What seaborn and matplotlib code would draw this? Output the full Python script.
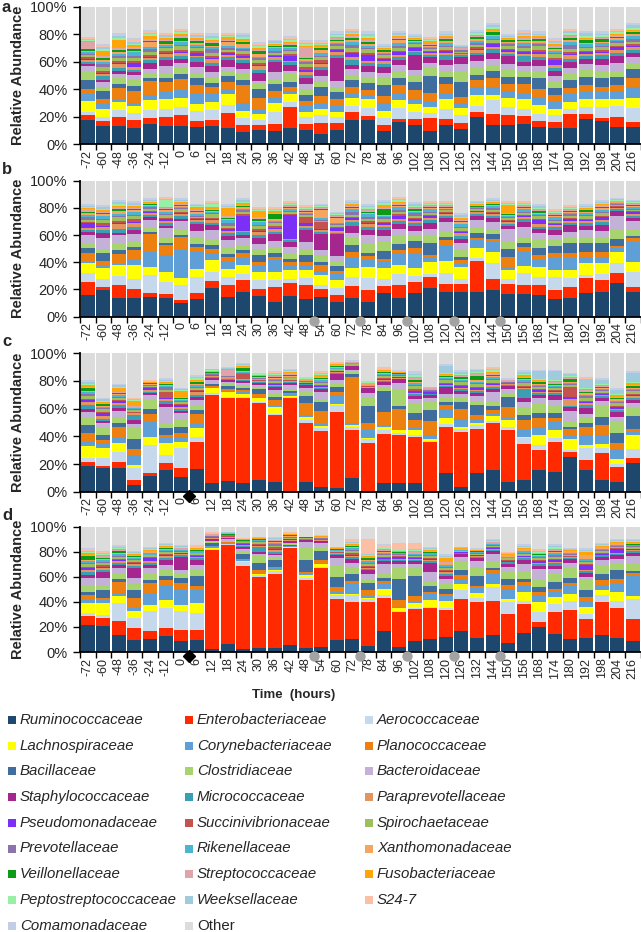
import numpy as np
import pandas as pd
import matplotlib
matplotlib.use("Agg")
import matplotlib.pyplot as plt
import seaborn as sns
from matplotlib.patches import Rectangle

# sampling times (hours) and panels
times = ['-72', '-60', '-48', '-36', '-24', '-12', '0', '6', '12', '18', '24', '30', '36', '42', '48', '54',
         '60', '72', '78', '84', '96', '102', '108', '120', '126', '132', '144', '150', '156', '168', '174',
         '180', '192', '198', '204', '216']
panels = ['a', 'b', 'c', 'd']

families = ['Ruminococcaceae', 'Enterobacteriaceae', 'Aerococcaceae', 'Lachnospiraceae', 'Corynebacteriaceae',
            'Planococcaceae', 'Bacillaceae', 'Clostridiaceae', 'Bacteroidaceae', 'Staphylococcaceae',
            'Micrococcaceae', 'Paraprevotellaceae', 'Pseudomonadaceae', 'Succinivibrionaceae', 'Spirochaetaceae',
            'Prevotellaceae', 'Rikenellaceae', 'Xanthomonadaceae', 'Veillonellaceae', 'Streptococcaceae',
            'Fusobacteriaceae', 'Peptostreptococcaceae', 'Weeksellaceae', 'S24-7', 'Comamonadaceae', 'Other']
colors = ['#1e476d', '#ff2a00', '#c6d9ec', '#ffff00', '#5e9fd8',
          '#ec8011', '#3f6e9e', '#a8d46f', '#c4b1d8', '#a5268e',
          '#3b9fb4', '#e2955e', '#7b2ff7', '#c4524e', '#9ebf5e',
          '#8b74ad', '#4bb4d3', '#f6a55e', '#0c9b16', '#dfa4a8',
          '#ffa50a', '#98f0a6', '#9fcbdc', '#fbbfa5', '#c3cde6', '#dcdcdc']

# relative abundance (%), one row per panel a, b, c, d
rumino = [
    [17.7, 13.6, 13.6, 12.1, 14.8, 13.6, 13.3, 12.8, 13.6, 11.6, 8.7, 10.4, 9.9, 12.1, 10.4, 7.3,
     10.4, 17.7, 17.7, 9.7, 16.5, 13.8, 9.9, 14, 10.9, 19.6, 13.8, 13.8, 14.8, 12.3, 12.1, 11.6, 18.2, 16.7, 12.6, 12.6],
    [15.9, 19.6, 14, 13.5, 14.7, 13.5, 9.8, 12.7, 20.8, 14.7, 17.8, 15.2, 11, 15.4, 13, 14.7,
     11, 13.5, 11, 17.6, 14, 17.6, 20.8, 18.4, 18.4, 18.4, 19.6, 16.4, 16.4, 15.9, 12.7, 13.5, 17.6, 18.4, 24.5, 18.4],
    [18.6, 16.9, 16.9, 4.8, 11.3, 15.7, 10.8, 16.1, 6, 7.7, 6.5, 8.4, 7.2, 0.5, 7.2, 3.6,
     2.4, 9.6, 0.7, 6, 6.5, 6, 0.7, 13.3, 3.6, 13.3, 15.7, 6.7, 8.4, 15.7, 14.5, 25.3, 15.7, 8.4, 7.2, 21],
    [21.8, 21, 13.3, 9.3, 10.6, 12.5, 8.5, 9.8, 2, 6.6, 2, 3.2, 3.2, 5.8, 3.2, 4,
     9.2, 10.5, 4.6, 16.8, 3.8, 8.6, 10, 12.2, 16.8, 11.4, 13.5, 7.3, 15.4, 20.3, 14, 10, 11.4, 13.5, 11.4, 8.6],
]
entero = [
    [3.6, 3.4, 6.5, 5.6, 4.1, 6.4, 8, 4.2, 4.1, 10.9, 5.3, 3.6, 4.9, 15.3, 4.1, 8,
     5.3, 6, 2.9, 4.3, 1.9, 4.4, 9.5, 4.6, 4.4, 4.1, 8.2, 7.2, 6, 4.9, 3.9, 10.2, 3.8, 2.2, 7.4, 3.9],
    [9.8, 2.4, 9.3, 6.5, 2.5, 3.2, 2.5, 4.9, 5.4, 8.6, 9.2, 4.8, 11, 9.6, 10.3, 5.3,
     5, 9, 8.6, 4.9, 9.3, 7.8, 8.6, 5.6, 5.6, 22.6, 7.8, 7.6, 6.9, 7.4, 6.9, 8.1, 11, 8.6, 7.4, 3.6],
    [3.1, 1.9, 4.8, 3.6, 2, 4.8, 6, 20, 64, 59.8, 61, 55.6, 48.2, 67, 42.2, 40.2,
     55.4, 35, 34.7, 36, 34.5, 33.8, 35.4, 33.2, 39.8, 31.8, 33.7, 37.9, 26.1, 14.5, 21.7, 3.6, 7.2, 19.3, 10.8, 3],
    [7.1, 6, 11.1, 9.8, 5.8, 6.6, 9.3, 8, 79.4, 78.8, 66.7, 56.5, 59.1, 77, 54.4, 62.8,
     33.2, 29.2, 35.1, 26.4, 27.8, 25.7, 25.1, 21.3, 25.6, 28.3, 27.5, 23, 23, 3.8, 17.6, 23.5, 14.8, 26.2, 23.7, 17.6],
]
aero = [
    [2, 3, 5, 5, 6, 6, 6, 7, 7, 6, 5, 4, 9, 3, 5, 6,
     4, 4, 6, 5, 8, 5, 3, 7, 6, 4, 10, 6, 5, 5, 5, 4, 5, 8, 8, 10],
    [6.2, 6, 6.5, 7.5, 13.4, 9, 11, 11.8, 7, 6, 4.4, 7, 5, 3, 5, 3.3,
     5, 7, 8.6, 5, 8, 4.4, 2, 8, 4, 2, 12, 3.4, 8.6, 6, 9.8, 6.6, 2, 4.4, 7.3, 11],
    [2.4, 5.3, 7.2, 8.4, 20.4, 6, 14.5, 3.6, 1, 1, 1, 1, 1, 1, 2.4, 2,
     4.8, 2.4, 3, 2.4, 1.2, 1, 0.5, 2.4, 2, 3, 1.5, 2, 4, 3.6, 2.4, 1, 8.4, 3.6, 2, 7.2],
    [2, 2.7, 14.6, 8, 16, 16, 14.6, 13.3, 1, 0.5, 3.4, 2, 2, 0.5, 1.5, 1,
     2.7, 5.4, 2.7, 2, 1, 1, 1, 2, 6.7, 3.5, 10.8, 9.5, 2.7, 7.6, 6.7, 7.6, 4, 5.4, 5.9, 16.2],
]
lachno = [
    [8.5, 6, 6, 5, 7, 7, 6, 5, 6, 8, 5, 4, 6, 6, 4, 4,
     4, 6, 6, 5, 6, 6, 5, 7, 5, 8, 4, 7, 7, 6, 5, 5, 6, 6, 5, 7],
    [7.3, 7.5, 8, 10.5, 6, 7.4, 5, 6, 8.6, 6, 6.6, 6, 6, 6, 6, 7.4,
     6, 6, 8.6, 8.6, 7, 6, 9, 8.6, 8.6, 7.4, 8, 7, 5.4, 7, 5, 6, 8.6, 7.8, 8.6, 7.4],
    [9, 7.2, 6, 2.4, 6, 8.4, 4.8, 6, 3.6, 3.6, 2.4, 2.4, 4.8, 1, 2.4, 1.7,
     1, 1.5, 0.5, 2.4, 2.4, 3.6, 1.7, 4, 1.7, 1.5, 3.6, 5.3, 1, 7.2, 6, 8.4, 2.4, 3, 3.4, 9.6],
    [8, 9.3, 5.3, 5.3, 5.3, 6.6, 5.3, 8, 0.5, 0.5, 0.5, 0.5, 1.5, 0.5, 2.6, 2.6,
     1.5, 1.5, 0.5, 5.4, 2.7, 4, 5.1, 4.9, 5.4, 3.8, 2.7, 2.7, 6.7, 8, 5.4, 4.9, 5.9, 4, 6.7, 2],
]
coryne = [
    [4.8, 3, 2, 2, 4, 5, 6, 8, 6, 4, 6, 4, 4, 2, 4, 4,
     4, 3, 3, 6, 4, 4, 4, 5, 4, 6, 6, 5, 4, 6, 5, 6, 5, 5, 6, 8],
    [1, 2, 1, 3.5, 11, 12.3, 20.8, 12, 5, 6, 5, 5, 8.6, 3.7, 3.7, 3,
     5, 8.6, 5, 5, 8.6, 11, 3.7, 12, 2.5, 6, 7.4, 2, 10.5, 5.4, 8.6, 8.6, 5, 5, 2.5, 14.7],
    [3, 3.6, 3.6, 7.2, 10.8, 4, 3.6, 3, 1, 1, 1, 1, 1, 1, 1.5, 1.5,
     6, 1, 6, 1.5, 1, 1.5, 3, 7.2, 5.5, 2, 2, 2, 6, 6, 6, 2, 7.2, 6.5, 7.2, 2],
    [2.6, 2.6, 2.6, 2.6, 9.3, 12, 12, 10.6, 1.5, 0.5, 1, 1, 1, 0.5, 1, 1,
     1.5, 8, 1.5, 4, 1, 1, 4.9, 4, 4, 4, 8, 8, 5.4, 5.4, 4, 6.7, 4.9, 4, 6.7, 16.2],
]
plano = [
    [3.7, 4, 8, 9, 10, 7, 8, 6, 5, 5, 13, 8, 5, 3, 4, 6,
     5, 5, 4, 5, 7, 6, 6, 6, 4, 5, 6, 5, 7, 6, 5, 4, 5, 4, 4, 7],
    [7, 3.5, 7.5, 7.5, 13.5, 7.4, 9.8, 3.7, 3, 2.5, 3.7, 2.5, 2.5, 2.5, 2.5, 4,
     1.5, 3.7, 2.5, 1.5, 2.5, 3.7, 1.5, 3.7, 2.5, 1.5, 2.5, 7.4, 3.7, 3.7, 3.7, 3.7, 3.7, 3.7, 1.5, 2.5],
    [6, 2.4, 8.4, 4.8, 6, 2.4, 2.4, 7.7, 1, 1, 1.5, 2.4, 4, 1, 8.4, 9.6,
     2.4, 33.7, 4.8, 9.6, 14.5, 6, 9.6, 2.4, 7.2, 3.6, 2.4, 7.2, 6, 6, 2.4, 4.8, 6, 7.2, 4.8, 2.4],
    [4, 1.5, 9.3, 8, 8, 4, 5.3, 2.6, 0.5, 0.5, 1, 2.6, 1, 0.5, 1.5, 2,
     4, 2, 5.4, 2, 5.4, 4, 1.5, 1.5, 2.6, 1.5, 2.6, 2.6, 2.6, 2.6, 2.6, 2.6, 3.2, 4, 4, 2.6],
]
bacil = [
    [6.5, 6, 3, 4, 2, 3, 4, 5, 3, 4, 4, 6, 5, 4, 4, 6,
     5, 5, 5, 8, 5, 6, 12, 5, 11, 4, 5, 5, 5, 8, 5, 6, 6, 6, 6, 6],
    [3, 6, 2.5, 2.5, 1.5, 1.5, 1.5, 2, 3, 2.5, 2.5, 5, 2.5, 2.5, 5, 2.5,
     3.7, 5, 2.5, 6, 4, 5, 8.6, 2, 2.5, 3.7, 3.7, 6, 2.5, 5, 5, 7.4, 6, 6, 5, 1.5],
    [6, 3.6, 2.4, 7.2, 3.6, 5, 5, 2.4, 1, 2.4, 1.5, 3.6, 2.4, 1.5, 4.8, 6,
     3.6, 1.5, 12, 14.5, 2, 4.8, 8.4, 2, 4.8, 7.2, 3, 7.2, 4, 3.6, 3.6, 2, 2.4, 6, 7.2, 9.6],
    [2.6, 6.6, 2, 6.6, 2.6, 2.6, 4, 8, 2, 0.5, 4, 5.3, 5.3, 0.5, 9.3, 7.4,
     8, 5.4, 5.4, 2.6, 16.2, 16.2, 5.4, 4, 4, 8, 2, 5.4, 2.6, 4, 5.4, 4, 4.9, 5.4, 6.7, 1.5],
]
clost = [
    [5.6, 3, 4, 4, 3, 4, 4, 4, 4, 4, 4, 4, 4, 6, 4, 5,
     4, 4, 4, 5, 5, 5, 6, 5, 8, 5, 4, 5, 4, 4, 5, 5, 5, 5, 4, 4],
    [4, 3, 5, 4, 2.5, 3.7, 3.7, 5, 3.7, 5, 3.7, 3.7, 5, 3.7, 3.7, 5,
     3.7, 5, 7, 6, 6, 4, 5, 5, 5, 3.7, 3.7, 6, 3.7, 6, 5, 5, 5, 4.4, 7, 5],
    [6, 5, 4, 8.4, 6, 3, 5, 3.6, 1, 1.5, 1.5, 1.5, 2.4, 1.5, 3.6, 2.4,
     2.4, 2, 7, 2.4, 12, 7.2, 6, 3, 3, 3, 3, 3, 6, 7.2, 6, 3, 3.6, 8.4, 8.4, 6],
    [5.3, 4, 4.5, 5.3, 5.3, 5.3, 4, 5.3, 1, 1, 2, 5.3, 2, 1, 10.6, 2,
     9.5, 5.4, 2, 4, 9.5, 6.7, 4, 4, 6.7, 6.7, 5.4, 5.4, 5.4, 6.7, 6.7, 8, 8, 6.7, 5.4, 5.4],
]
bacter = [
    [4.8, 3, 3, 4, 4, 5, 4, 4, 4, 3, 4, 2, 5, 2, 4, 3,
     4, 4, 4, 4, 4, 4, 4, 4, 5, 5, 5, 4, 4, 5, 4, 4, 4, 5, 6, 5],
    [6, 8, 6, 5, 6, 7, 6, 5, 7, 5, 5, 4, 4, 5, 6, 3.7,
     3.7, 3.7, 6, 5, 5, 3.7, 5, 6, 5, 6, 5, 8.6, 8.6, 5, 3.7, 3.7, 5, 4.4, 10, 6],
    [3.6, 3.6, 5, 2.4, 3.6, 12, 4.8, 3.6, 2.4, 1.5, 2.4, 1.5, 2.4, 2.4, 2.4, 4.8,
     2.4, 1.5, 2.4, 2.4, 4.8, 3, 2.4, 3, 3, 3.6, 7.2, 3, 3, 3.6, 3.6, 8.4, 3, 3, 3, 3],
    [5.3, 5.3, 4, 4, 4, 4, 2.6, 4, 1, 1, 2, 2, 2, 1, 4, 4,
     5.4, 4, 5.4, 6.7, 3, 3, 6.7, 4, 4, 5.4, 5.4, 4, 6.7, 8, 4, 4, 3, 4, 4, 6.7],
]
staph = [
    [1, 2, 2, 2, 4, 4, 3, 4, 4, 5, 4, 6, 7, 4, 5, 5,
     17, 3, 4, 4, 4, 11, 4, 4, 5, 4, 4, 6, 3, 4, 3, 4, 4, 4, 5, 3],
    [2, 3.5, 2, 3, 2, 2, 2, 5, 4, 3, 2, 5, 5, 3.7, 8.6, 12,
     16, 5, 4, 4, 3.7, 3.7, 5, 3, 3, 3, 3, 2, 3, 3, 3.7, 5, 3, 5, 4, 2.5],
    [2.4, 1.5, 2.4, 2.4, 1.5, 2.4, 1.5, 2.4, 1.5, 1.5, 1.5, 1.5, 2.4, 1.5, 2.4, 2.4,
     4.8, 2.4, 3.6, 2.4, 2.4, 2.4, 2.4, 4.8, 2.4, 2.4, 2.4, 2.4, 3, 2.4, 3.6, 2.4, 4.8, 2.4, 3.6, 2.4],
    [2.6, 4.5, 2.6, 8, 2.6, 4, 10.6, 4, 1, 1, 1.5, 1.5, 1.5, 1, 1.5, 1.5,
     2.6, 2.6, 2.6, 2.6, 2.6, 2.6, 7.6, 2.6, 2.6, 2.6, 2.6, 2.6, 2.6, 2.6, 2.6, 2.6, 2.6, 2.6, 2.6, 2.6],
]

# small families: relative share of the thin bands between the main families and "Other"
micro = [
    [2, 2, 2, 1, 2, 2, 2, 3, 2, 2, 2, 2, 2, 2, 2, 2, 2, 3, 2, 3, 2, 2, 2, 3, 4, 2, 3, 2, 4, 2, 2, 2, 2, 3, 2, 2],
    [2, 2, 2, 2, 2, 2, 2, 2, 2, 2, 2, 2, 2, 2, 2, 2, 2, 3, 2, 2, 2, 2, 2, 2, 2, 2, 2, 2, 3, 2, 2, 2, 2, 2, 3, 2],
    [2, 2, 2, 6, 2, 2, 2, 2, 1, 1, 1, 1, 1, 1, 1, 1.5, 1.5, 1, 1, 1, 1, 1, 1, 1.5, 1.5, 1.5, 1.5, 1.5, 7.2, 2, 2, 1.5, 2, 1.5, 1.5, 2],
    [2, 2, 2, 2, 2, 2, 2, 2, 0.5, 0.5, 1, 5.3, 1, 0.5, 1, 1, 2, 2, 1, 2, 1, 1, 2, 2, 2, 2, 2, 2, 2, 2, 2, 2, 2, 2, 2, 2],
]
parapre = [
    [2, 1, 2, 2, 1, 2, 2, 1, 2, 2, 1, 2, 2, 1, 2, 2, 2, 2, 1, 2, 2, 1, 2, 2, 1, 2, 2, 2, 1, 2, 2, 2, 2, 1, 2, 2],
    [2, 2, 3, 3, 2, 2, 2, 2, 2, 2, 1, 2, 2, 1, 2, 2, 2, 2, 2, 2, 2, 2, 2, 2, 2, 2, 2, 2, 2, 2, 2, 2, 2, 2, 2, 2],
    [2, 2, 2, 2, 2, 2, 2, 2, 1, 1, 1, 1, 1, 1, 1, 1, 1, 1, 1, 1, 1, 1, 1, 1, 1, 1, 1, 1, 1, 1, 1, 6, 1, 1, 1, 1],
    [2, 2, 2, 2, 2, 2, 2, 2, 0.5, 0.5, 1, 1, 1, 0.5, 1, 1, 1, 1, 1, 1, 1, 1, 1, 1.5, 1, 1, 1, 1, 1, 1, 1, 1, 1, 1, 1, 1],
]
pseudo = [
    [1, 1, 1, 2, 1, 1, 1, 2, 1, 1, 1, 1, 1, 3, 1, 1, 1, 2, 3, 2, 2, 3, 1, 1, 1, 1, 2, 2, 1, 2, 3, 1, 1, 1, 2, 1],
    [4, 1, 1, 1, 1, 1, 1, 1, 1, 1, 11, 1, 1, 23, 2.5, 1, 3.7, 1, 1, 1, 2, 1, 2, 1, 1, 1, 1, 1, 1, 4, 1, 1, 1, 2, 2, 2],
    [1, 2.5, 1.5, 1, 3.6, 1, 1.5, 1, 0.5, 0.5, 0.5, 1, 1, 1, 1, 1, 1, 1, 1, 1, 1, 1, 4.8, 1, 1, 1, 1, 1, 1, 1.5, 1, 1, 1, 1, 1, 1],
    [1, 1, 1, 1, 4, 1, 1, 1, 0.5, 0.5, 1.5, 1, 1, 0.5, 2, 1, 1, 1, 1, 1, 2.7, 1, 1, 1, 1, 1, 1.5, 1.5, 1, 2, 1, 1, 5.4, 1, 6.7, 1],
]
succin = [
    [2, 1, 1, 1, 1, 1, 1, 1, 1, 1, 1, 1, 1, 1, 2, 2, 1, 1, 1, 1, 1, 1, 1, 1, 1, 1, 1, 1, 1, 1, 1, 1, 1, 1, 1, 1],
    [1, 2, 1, 2, 1, 1, 1, 1, 1, 1, 1, 1, 1, 1, 7, 7, 1, 1, 1, 1, 1, 1, 1, 1, 1, 1, 1, 1, 1, 1, 1, 1, 1, 1, 1, 1],
    [1, 1, 1, 1, 1, 6, 1, 1, 1, 1, 5, 1, 1, 1, 1, 1, 1, 1, 1, 1, 1, 1, 1, 1, 1, 1, 1, 1, 1, 1, 1, 8.4, 1, 1, 1, 1],
    [1, 1, 1, 1, 1, 1, 1, 1, 0.5, 0.5, 1, 1, 1, 0.5, 1, 1, 1, 3, 1, 1, 1, 1, 1, 1, 1, 1, 1, 1, 1, 1, 1, 1, 1, 1, 1, 1],
]
spiro = [
    [2, 2, 2, 2, 2, 2, 3, 2, 2, 2, 2, 2, 2, 2, 2, 2, 2, 2, 2, 2, 2, 3, 2, 2, 2, 2, 2, 2, 2, 3, 2, 2, 2, 2, 2, 2],
    [2, 2, 2, 2, 2, 2, 2, 2, 3, 2, 2, 2, 2, 2, 2, 2, 2, 2, 2, 2, 2, 2, 2, 2, 2, 2, 2, 2, 2, 2, 2, 2, 2, 2, 2, 2],
    [2, 2, 2, 2, 2, 2, 2, 2, 1, 1, 1, 1.5, 1.5, 1.5, 2, 2, 1.5, 1, 2, 2, 2, 2, 2, 2, 2, 2, 2, 2, 2, 2, 2, 2, 2, 2, 2, 2],
    [2, 2, 2, 2, 2, 2, 2, 2, 0.5, 0.5, 1, 2, 1, 0.5, 1.5, 1, 2, 2, 2, 2, 2, 2, 2, 2, 2, 2, 2, 2, 2, 2, 2, 2, 2, 2, 2, 2],
]
prevo = [
    [1, 2, 1, 1, 2, 1, 1, 1, 2, 1, 1, 1, 2, 1, 1, 1, 1, 2, 1, 1, 2, 1, 1, 1, 2, 1, 1, 2, 1, 1, 1, 2, 1, 1, 1, 2],
    [2, 1, 1, 1, 2, 1, 1, 1, 1, 2, 1, 1, 1, 1, 1, 1, 1, 2, 1, 1, 1, 2, 1, 1, 1, 1, 2, 1, 1, 1, 1, 2, 1, 1, 1, 1],
    [1, 1, 1, 1, 1, 3, 1, 1, 1, 1, 1, 1, 1, 1, 1, 1, 1, 1, 1, 1, 1, 1, 1, 1, 1, 1, 1, 1, 1, 1, 1, 1, 1, 1, 1, 1],
    [1, 1, 1, 1, 1, 1, 1, 1, 0.5, 0.5, 1, 1, 1, 0.5, 1, 1, 1, 1, 1, 1, 1, 1, 1, 1, 1, 1, 1, 1, 1, 1, 1, 1, 1, 1, 1, 1],
]
riken = [
    [2, 1, 1, 2, 1, 1, 2, 1, 1, 2, 1, 1, 2, 1, 1, 2, 1, 2, 1, 1, 2, 1, 1, 2, 1, 2, 2, 1, 2, 1, 1, 2, 2, 2, 1, 2],
    [2, 2, 1, 2, 1, 2, 1, 2, 1, 2, 1, 2, 1, 2, 1, 2, 1, 2, 2, 1, 2, 1, 2, 1, 2, 1, 2, 1, 2, 1, 2, 1, 2, 2, 2, 2],
    [1, 1, 1, 1, 1, 1, 1, 1, 1, 1, 1, 1, 1, 1, 1.5, 1.5, 1.5, 1, 1, 1, 1, 1, 1, 1, 1, 1, 1, 1, 1.5, 1, 1, 1, 1, 1, 1, 1],
    [1.5, 1.5, 1.5, 1.5, 1.5, 1.5, 1.5, 1.5, 0.5, 0.5, 1, 1, 1, 0.5, 1, 1, 1.5, 1.5, 1, 1.5, 1, 1, 1.5, 1.5, 1.5, 1.5, 1.5, 1.5, 1.5, 1.5, 1.5, 1.5, 1.5, 1.5, 1.5, 1.5],
]
xantho = [
    [1, 1, 1, 1, 3, 1, 1, 1, 1, 3, 2, 2, 1, 1, 1, 2, 1, 1, 1, 1, 2, 1, 1, 1, 1, 1, 1, 1, 1, 1, 1, 1, 1, 1, 1, 1],
    [2, 1, 2, 1, 1, 1, 1, 2, 1, 1, 1, 1, 1, 1, 1, 8, 7, 1, 1, 1, 1, 1, 1, 1, 1, 1, 1, 1, 1, 1, 1, 1, 1, 1, 1, 1],
    [1, 1, 1, 1, 1, 1, 1, 1, 1, 1, 1, 1, 1, 1, 1, 1.5, 1.5, 1, 1, 1, 1, 1, 1, 1, 1, 1, 1, 1, 1, 1, 1, 1, 1, 1, 1, 1],
    [1, 1, 1, 1, 1, 1, 1, 1, 0.5, 0.5, 0.5, 0.5, 0.5, 0.5, 0.5, 0.5, 1, 1, 1, 1, 1, 1, 1, 1, 2, 1, 1, 1, 1, 1, 1, 1, 3, 1, 1, 1],
]
veill = [
    [1.5, 1.5, 1.5, 1, 1, 1.5, 2, 1.5, 1.5, 1, 1, 1.5, 1, 1, 1, 1.5, 1, 1.5, 1, 1, 1.5, 1, 1, 1.5, 1, 1.5, 2, 1.5, 1, 1.5, 1, 1.5, 2, 1.5, 1, 1.5],
    [1, 1, 1, 1, 1, 1, 1, 1, 1, 1, 1, 1.5, 4, 1.5, 1, 1, 1, 1, 1, 4, 1, 1, 1, 1, 1, 1, 1, 1, 1, 1, 1, 1, 1, 1.5, 1, 1],
    [1.5, 1, 1, 1, 1, 1, 1, 2, 1, 1, 3.6, 1, 1, 1.5, 1, 1, 1, 1, 1, 1, 1, 1, 1, 1, 1, 3.6, 1, 1, 1, 2, 1, 2, 1, 1, 1, 1.5],
    [2.6, 1, 2, 1, 1, 1, 1, 1, 0.5, 0.5, 0.5, 0.5, 0.5, 0.5, 0.5, 0.5, 0.5, 1.5, 2, 1.5, 0.5, 0.5, 0.5, 0.5, 0.5, 0.5, 0.5, 0.5, 0.5, 0.5, 0.5, 0.5, 0.5, 1, 1, 1],
]
strep = [
    [7, 1, 1, 1, 1, 1, 1, 1, 1, 1, 1, 1, 1, 1, 7, 1, 1, 1, 1, 1, 1, 1, 1, 1, 1, 1, 1, 1, 1, 1, 1, 1, 1, 1, 1, 1],
    [2, 1, 1, 1, 1, 1, 1, 1, 1, 1, 1, 1, 1, 1, 1, 1, 1, 1, 1, 1, 1, 1, 1, 1, 1, 1, 1, 1, 1, 1, 1, 1, 1, 1, 1, 1],
    [1, 1, 1, 1, 1, 1, 1, 1, 1, 8.4, 2, 1, 1, 2, 1, 1, 1, 1, 1, 1, 1, 1, 1, 1, 1, 1, 1, 1, 1, 1, 1, 1, 1, 1, 1, 1],
    [1, 1, 1, 1, 1, 1, 1, 1, 0.5, 0.5, 0.5, 0.5, 0.5, 0.5, 0.5, 0.5, 1, 1, 1, 1, 1, 1, 1, 1, 1, 1, 1, 1, 1, 1, 1, 1, 1, 1, 1, 1],
]
fuso = [
    [1, 3, 5, 1, 2, 1, 2, 1, 1, 2, 1, 1, 1, 1, 1, 1, 1, 1, 1, 1, 1, 1, 3, 1, 1, 1, 1, 1, 1, 1, 1, 1, 1, 1, 1, 1],
    [1, 1, 1, 1, 1, 1, 1, 3, 1, 6, 1, 4, 1, 1, 1, 1, 1, 1, 1, 2, 1, 1, 1, 1, 1, 1, 1, 8.6, 1, 1, 1, 1, 1, 1, 1, 1],
    [1, 1, 3.6, 6, 1, 1, 6, 1, 1, 1, 1, 1, 1, 1, 1, 2, 1.5, 1, 1, 1, 1, 1, 1, 1, 1, 1, 1, 1, 1, 1, 1, 1, 1, 1, 1, 1],
    [1, 1, 1, 1, 1, 1, 1, 1, 0.5, 0.5, 0.5, 0.5, 0.5, 0.5, 0.5, 0.5, 1, 1, 1, 1, 1, 1, 1, 4, 1, 1, 1, 1, 1, 1, 1, 1, 3, 1, 1, 1],
]
pepto = [
    [1, 1, 1, 1, 1, 1, 1, 1, 1, 1, 1, 1, 1, 1, 1, 1, 1, 1, 1, 1, 1, 1, 1, 1, 1, 1, 2, 1, 1, 1, 1, 1, 1, 1, 1, 1],
    [1, 1, 1, 1, 1, 5, 1, 1, 3, 1, 1, 1, 1, 1, 1, 1, 1, 1, 1, 1, 1, 1, 1, 1, 1, 1, 1, 1, 1, 1, 1, 1, 1, 1, 1, 1],
    [1, 1, 1, 1, 1, 1, 1, 1, 1, 1, 1, 1, 1, 1, 1, 1, 1, 1, 1, 1, 1, 1, 1, 1, 1, 1, 1, 1, 1, 1, 1, 1, 1, 1, 1, 1],
    [1, 1, 1, 1, 1, 1, 1, 1, 0.5, 0.5, 0.5, 0.5, 0.5, 0.5, 0.5, 0.5, 1, 1, 1, 1, 1, 1, 1, 1, 2, 1, 1, 1, 1, 1, 1, 1, 1, 1, 2, 1.5],
]
weeks = [
    [1, 1, 1, 1, 1, 1, 1, 1, 1, 1, 1, 1, 1, 1, 1, 1, 1, 1, 1, 1, 1, 1, 1, 1, 1, 1, 1, 1, 1, 1, 1, 1, 2, 1, 1, 2],
    [1, 1, 1, 1, 1, 1, 1, 1, 1, 1, 1, 1, 1, 1, 1, 1, 1, 1, 1, 1, 1, 1, 1, 1, 1, 1, 1, 1, 1, 2, 1, 1, 1, 1, 1, 1],
    [1, 1, 1, 1, 1, 1, 1, 1, 1, 1, 1, 1, 1, 1, 1, 1, 1, 1, 1, 1, 1, 1, 1, 6, 1.5, 1, 1, 1, 2, 7.2, 8.4, 1, 6, 4, 3, 7.2],
    [1, 1, 1, 1, 1, 1, 1, 1, 0.5, 0.5, 0.5, 0.5, 0.5, 0.5, 0.5, 0.5, 1, 1, 1, 1, 1, 1, 1, 1, 1, 1, 1, 1, 1, 1, 1, 1, 1, 1, 1, 1],
]
s247 = [
    [1, 1, 1, 1, 0.5, 0.5, 0.5, 0.5, 1, 0.5, 0.5, 0.5, 0.5, 1, 1, 1, 0.5, 0.5, 0.5, 0.5, 0.5, 0.5, 1, 0.5, 0.5, 0.5, 0.5, 0.5, 1, 0.5, 0.5, 0.5, 0.5, 0.5, 0.5, 0.5],
    [1, 0.5, 0.5, 0.5, 0.5, 0.5, 0.5, 0.5, 0.5, 0.5, 0.5, 0.5, 0.5, 0.5, 0.5, 0.5, 0.5, 0.5, 0.5, 0.5, 0.5, 0.5, 0.5, 0.5, 0.5, 0.5, 0.5, 0.5, 0.5, 0.5, 0.5, 0.5, 0.5, 0.5, 0.5, 0.5],
    [0.5, 0.5, 0.5, 0.5, 0.5, 0.5, 0.5, 0.5, 0.5, 0.5, 0.5, 0.5, 0.5, 1, 0.5, 0.5, 0.5, 0.5, 0.5, 0.5, 0.5, 0.5, 0.5, 0.5, 0.5, 0.5, 0.5, 0.5, 0.5, 0.5, 0.5, 0.5, 0.5, 0.5, 0.5, 0.5],
    [1, 1, 0.5, 0.5, 0.5, 0.5, 0.5, 0.5, 0.3, 0.3, 0.3, 0.3, 0.3, 0.3, 0.3, 0.3, 0.5, 2, 12, 3, 8, 6.7, 0.5, 0.5, 0.5, 0.5, 0.5, 0.5, 0.5, 0.5, 0.5, 0.5, 0.5, 0.5, 0.5, 0.5],
]
comam = [
    [1, 1, 1, 1, 1, 1, 1, 1, 1, 1, 1, 1, 1, 1, 1, 1, 1, 1, 1, 1, 1, 1, 1, 1, 1, 1, 1, 1, 1, 1, 1, 1, 1, 1, 1, 1],
    [1, 1, 1, 1, 1, 1, 1, 1, 1, 1, 1, 1, 1, 1, 1, 1, 1, 1, 1, 1, 1, 1, 1, 1, 1, 1, 1, 1, 1, 1, 1, 1, 1, 1, 1, 1],
    [1, 1, 1, 1, 1, 1, 1, 1, 1, 1, 1, 1, 1, 1, 1, 1, 1, 1, 1, 1, 1, 1, 1, 1, 1, 1, 1, 1, 1, 1, 1, 1, 1, 1, 1, 1],
    [1, 1, 1, 1, 1, 1, 1, 1, 0.5, 0.5, 0.5, 0.5, 0.5, 0.5, 0.5, 0.5, 1, 1, 1, 1, 1, 1, 1, 1, 1, 1, 1, 1, 1, 1, 1, 1, 1, 1, 1, 1],
]

# grey "Other" band at the top of each bar (%)
other = [
    [22, 27, 19, 23, 17, 19, 16, 19, 19, 19, 19, 26, 24, 21, 24, 24, 18, 16, 18, 27, 18, 20, 22, 18, 28, 17, 12, 20, 17, 18, 23, 16, 18, 18, 16, 12],
    [17, 18, 14, 15, 13, 12, 13, 17, 15, 17, 13, 19, 19, 15, 18, 17, 23, 14, 17, 14, 12, 16, 15, 15, 24, 15, 13, 15, 15, 17, 21, 18, 17, 14, 13, 14],
    [19, 32, 22, 32, 19, 18, 25, 16, 11, 10, 7, 14, 13, 11, 17, 13, 6, 5, 20, 10, 12, 13, 24, 8, 12, 11, 10, 18, 12, 12, 12, 14, 17, 18, 25, 13],
    [17, 19, 15, 19, 16, 13, 15, 15, 4, 4, 9, 8, 8, 4, 8, 7, 16, 10, 10, 14, 13, 13, 16, 22, 16, 17, 10, 20, 14, 18, 14, 17, 17, 13, 10, 10],
]

# event markers drawn under the time axis
diamond_between = ('0', '6')
circles_between = [('48', '54'), ('72', '78'), ('96', '102'), ('120', '126'), ('144', '150')]
show_diamond = [False, False, True, True]
show_circles = [False, True, False, True]

majors = [rumino, entero, aero, lachno, coryne, plano, bacil, clost, bacter, staph]
minors = [micro, parapre, pseudo, succin, spiro, prevo, riken, xantho, veill, strep, fuso, pepto, weeks, s247, comam]

sns.set_style("ticks")
plt.rcParams['font.family'] = ['Liberation Sans', 'DejaVu Sans']

W, H = 641, 932
fig = plt.figure(figsize=(W / 100, H / 100), dpi=100)
boxes = [(6.7, 144.3), (180.7, 316.7), (353.3, 491.7), (526.7, 652.0)]
letter_y = [7, 170, 342, 516]
x_left, x_right = 80, 640.5


def mid(pair):
    return (times.index(pair[0]) + times.index(pair[1])) / 2


for p, (top, bot) in enumerate(boxes):
    ax = fig.add_axes([x_left / W, 1 - bot / H, (x_right - x_left) / W, (bot - top) / H])

    maj = np.array([f[p] for f in majors], dtype=float)
    mnr = np.array([f[p] for f in minors], dtype=float)
    rest = np.clip(100 - np.array(other[p], dtype=float) - maj.sum(0), 0, None)
    mnr = mnr / mnr.sum(0) * rest
    vals = np.vstack([maj, mnr])
    vals = np.vstack([vals, 100 - vals.sum(0)])
    cum = vals.cumsum(0)
    df = pd.DataFrame(cum.T, columns=families)
    df['time'] = times

    # stacked bars: draw cumulative totals from the top layer down
    for k in reversed(range(len(families))):
        sns.barplot(data=df, x='time', y=families[k], order=times, color=colors[k],
                    width=0.9, saturation=1, errorbar=None, linewidth=0, ax=ax)

    ax.set_xlim(-0.5, len(times) - 0.5)
    ax.set_ylim(0, 100)
    ax.set_yticks(range(0, 101, 20))
    ax.set_yticklabels([f'{v}%' for v in range(0, 101, 20)])
    ax.set_xticks(range(len(times)))
    ax.set_xticklabels(times, rotation=90)
    ax.set_xticks(np.arange(-0.5, len(times), 1), minor=True)
    ax.tick_params(axis='x', which='major', length=0, pad=4, labelsize=9)
    ax.tick_params(axis='x', which='minor', length=4, width=1, color='black')
    ax.tick_params(axis='y', length=5, width=1, pad=4, labelsize=10.5, color='black')
    ax.set_xlabel('')
    ax.set_ylabel('Relative Abundance', fontsize=10.5, fontweight='bold')
    ax.yaxis.set_label_coords(-0.098, 0.5)
    sns.despine(ax=ax)
    for s in ['left', 'bottom']:
        ax.spines[s].set_color('black')
        ax.spines[s].set_linewidth(1.3)

    trans = ax.get_xaxis_transform()
    if show_circles[p]:
        cx = [mid(c) for c in circles_between]
        ax.plot(cx, [-0.035] * len(cx), 'o', ms=7.5, color='#a3a3a3', mec='none',
                transform=trans, clip_on=False, zorder=10)
    if show_diamond[p]:
        ax.plot([mid(diamond_between)], [-0.03], 'D', ms=6.5, color='black',
                transform=trans, clip_on=False, zorder=10)

    fig.text(2 / W, 1 - letter_y[p] / H, panels[p], fontsize=12, fontweight='bold', va='center', ha='left')

fig.text(294 / W, 1 - 695 / H, 'Time  (hours)', ha='center', va='center', fontsize=9.5, fontweight='bold')

# legend: three columns, filled row by row
col_x = [8, 185, 365]
for k, name in enumerate(families):
    r, c = divmod(k, 3)
    y = 720 + 25.7 * r
    fig.add_artist(Rectangle((col_x[c] / W, 1 - (y + 4) / H), 8 / W, 8 / H,
                             transform=fig.transFigure, facecolor=colors[k], edgecolor='none'))
    fig.text((col_x[c] + 12) / W, 1 - y / H, name, fontsize=10.8, va='center', ha='left',
             style='normal' if name == 'Other' else 'italic')

fig.savefig('out.png', dpi=100)
